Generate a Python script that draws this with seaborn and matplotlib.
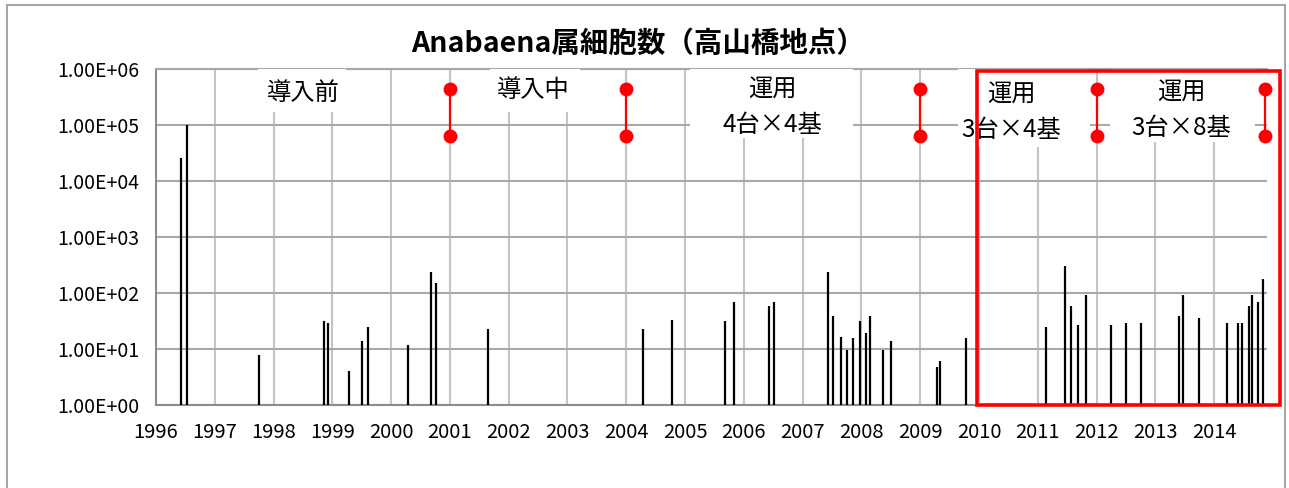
import numpy as np
import pandas as pd
import matplotlib
matplotlib.use("Agg")
import matplotlib.pyplot as plt
import matplotlib.ticker as mticker
from matplotlib.patches import Rectangle
import seaborn as sns

# ---------------- data ----------------
bar_years = [1996.43, 1996.52, 1997.75, 1998.85, 1998.92, 1999.28, 1999.51, 1999.60,
             2000.29, 2000.68, 2000.77, 2001.65, 2004.28, 2004.77, 2005.68, 2005.84,
             2006.43, 2006.52, 2007.43, 2007.52, 2007.66, 2007.75, 2007.85, 2007.98,
             2008.07, 2008.14, 2008.37, 2008.50, 2009.28, 2009.34, 2009.78, 2011.14,
             2011.46, 2011.56, 2011.69, 2011.82, 2012.24, 2012.50, 2012.76, 2013.41,
             2013.47, 2013.74, 2014.22, 2014.41, 2014.48, 2014.60, 2014.64, 2014.74,
             2014.84]
cell_counts = [26000, 100000, 7.7, 31, 29, 4.1, 14, 25,
               12, 240, 150, 23, 23, 33, 31, 68,
               58, 68, 240, 39, 16.7, 9.6, 15.4, 31,
               19.6, 39, 9.6, 14, 4.7, 6.1, 15.4, 25,
               300, 58, 26.5, 94, 26.5, 28.8, 28.8, 39,
               94, 36, 28.8, 28.8, 28.8, 58, 94, 68,
               175]
marker_years = [2001.0, 2004.0, 2009.0, 2012.0, 2014.87]
marker_top = [440000, 440000, 440000, 440000, 440000]
marker_bottom = [64000, 64000, 64000, 64000, 64000]

phase_labels = ["導入前", "導入中", "運用\n4台×4基", "運用\n3台×4基", "運用\n3台×8基"]
year_ticks = list(range(1996, 2015))
decade_ticks = [1, 10, 100, 1000, 10000, 100000, 1000000]
title = "Anabaena属細胞数（高山橋地点）"

# ---------------- style ----------------
sns.set_theme(style="white")
plt.rcParams["font.family"] = ["Noto Sans CJK JP", "DejaVu Sans"]
plt.rcParams["text.color"] = "black"

W, H = 1289, 488
fig = plt.figure(figsize=(W / 100, H / 100), dpi=100)
ax_l, ax_r, ax_t, ax_b = 156, 1267, 69, 405
ax = fig.add_axes([ax_l / W, 1 - ax_b / H, (ax_r - ax_l) / W, (ax_b - ax_t) / H])

ax.set_yscale("log")
ax.set_xlim(1996, 2014.9)
ax.set_ylim(1, 1e6)

# bars (thin vertical lines)
ax.vlines(bar_years, 1, cell_counts, colors="black", linewidth=1.6, zorder=3)

# red marker segments
seg = pd.DataFrame({
    "x": marker_years + marker_years,
    "y": marker_top + marker_bottom,
    "seg": list(range(len(marker_years))) * 2,
})
sns.lineplot(data=seg, x="x", y="y", units="seg", estimator=None, color="#ff0000",
             marker="o", markersize=10, markeredgewidth=0, linewidth=1.6,
             sort=False, ax=ax, zorder=8, clip_on=False, legend=False)

# grid
ax.set_xticks(year_ticks)
ax.set_yticks(decade_ticks)
ax.yaxis.set_minor_locator(mticker.NullLocator())
ax.xaxis.set_minor_locator(mticker.NullLocator())
ax.yaxis.set_major_formatter(mticker.FuncFormatter(lambda v, p: f"{v:.2E}"))
ax.grid(True, axis="y", color="#a8a8a8", linewidth=1.5, zorder=0)
ax.grid(True, axis="x", color="#c4c4c4", linewidth=1.5, zorder=0)
ax.set_axisbelow(True)
ax.spines["right"].set_visible(False)
ax.spines["top"].set_color("#a8a8a8")
ax.spines["top"].set_linewidth(1.5)
for s in ["left", "bottom"]:
    ax.spines[s].set_color("#8c8c8c")
    ax.spines[s].set_linewidth(1.5)
ax.tick_params(axis="both", which="major", direction="out", length=4, width=1.2,
               color="#8c8c8c", labelsize=14, labelcolor="black")
ax.tick_params(axis="x", pad=8, labelsize=14.5)
ax.tick_params(axis="y", pad=8)
ax.set_xlabel("")
ax.set_ylabel("")

# annotation boxes (white backgrounds) and texts
def px2ax(px, py):
    return (px - ax_l) / (ax_r - ax_l), (ax_b - py) / (ax_b - ax_t)

boxes = [(258, 346, 112), (490, 580, 112), (690, 853, 138), (958, 1090, 147), (1110, 1255, 142)]
centers = [(303, 93), (533, 90), (772, 107), (1011, 112), (1181, 110)]
for (x0, x1, yb), (cx, cy), lab in zip(boxes, centers, phase_labels):
    a0, b0 = px2ax(x0, yb)
    a1, _ = px2ax(x1, yb)
    ax.add_patch(Rectangle((a0, b0), a1 - a0, 1 - b0, transform=ax.transAxes,
                           facecolor="white", edgecolor="none", zorder=4))
    tx, ty = px2ax(cx, cy)
    ax.text(tx, ty, lab, transform=ax.transAxes, ha="center", va="center",
            fontsize=17.5, linespacing=1.5, zorder=5, color="black")

# title
fig.text(638 / W, 1 - 44 / H, title, ha="center", va="center",
         fontsize=20.5, fontweight="bold", color="black")

# highlight red box
fig.add_artist(Rectangle((977 / W, 1 - 405 / H), (1280 - 977) / W, (405 - 71) / H,
                         transform=fig.transFigure, facecolor="none",
                         edgecolor="#ff0000", linewidth=2.6, zorder=10))
# chart frame
fig.add_artist(Rectangle((7 / W, -0.02), (1285 - 7) / W, 1.02 - 5 / H,
                         transform=fig.transFigure, facecolor="none",
                         edgecolor="#a6a6a6", linewidth=1.5, zorder=1))

fig.savefig("out.png", dpi=100, facecolor="white")
